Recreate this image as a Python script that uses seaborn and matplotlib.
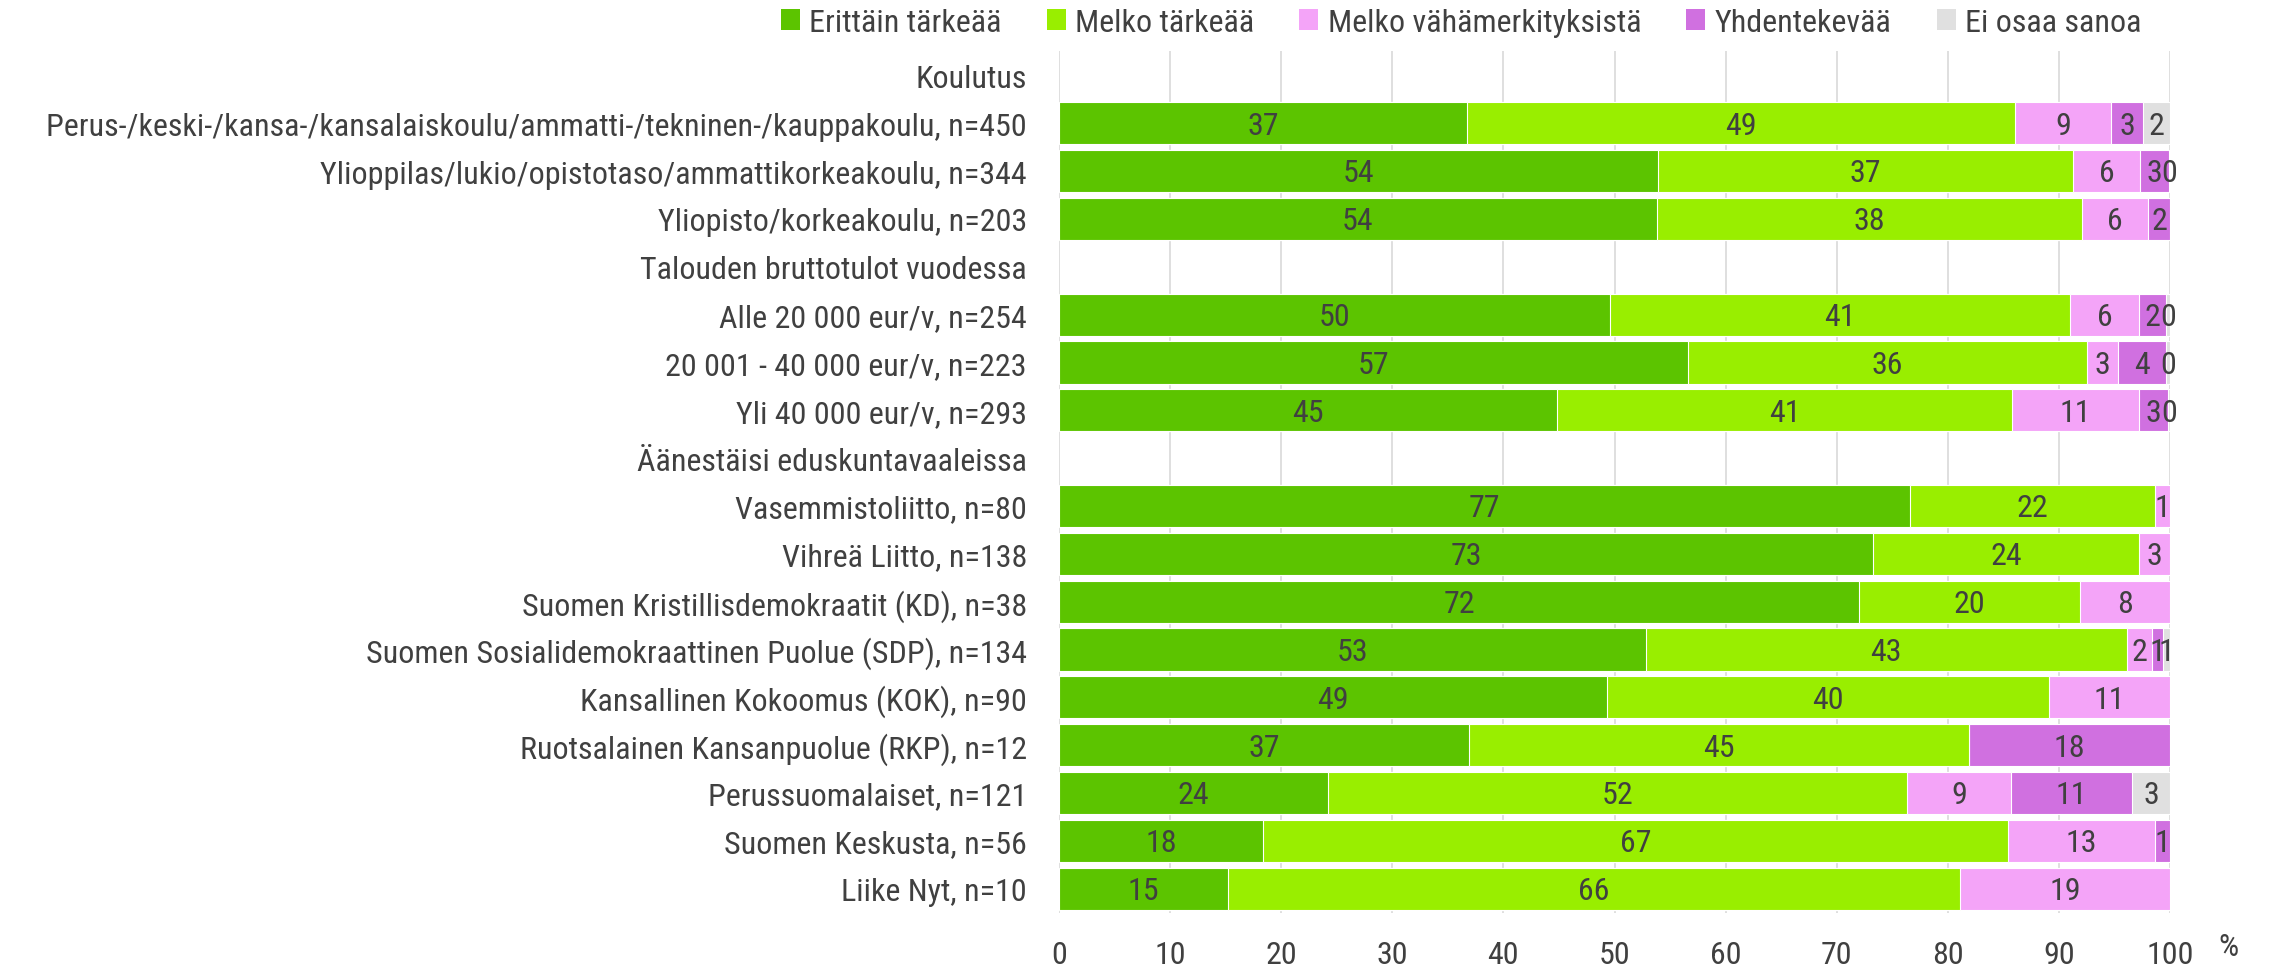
import numpy as np
import pandas as pd
import matplotlib
matplotlib.use("Agg")
import matplotlib.pyplot as plt
from matplotlib import font_manager
from matplotlib.patches import Patch
import seaborn as sns

nan = np.nan
categories = [
    "Koulutus",
    "Perus-/keski-/kansa-/kansalaiskoulu/ammatti-/tekninen-/kauppakoulu, n=450",
    "Ylioppilas/lukio/opistotaso/ammattikorkeakoulu, n=344",
    "Yliopisto/korkeakoulu, n=203",
    "Talouden bruttotulot vuodessa",
    "Alle 20 000 eur/v, n=254",
    "20 001 - 40 000 eur/v, n=223",
    "Yli 40 000 eur/v, n=293",
    "Äänestäisi eduskuntavaaleissa",
    "Vasemmistoliitto, n=80",
    "Vihreä Liitto, n=138",
    "Suomen Kristillisdemokraatit (KD), n=38",
    "Suomen Sosialidemokraattinen Puolue (SDP), n=134",
    "Kansallinen Kokoomus (KOK), n=90",
    "Ruotsalainen Kansanpuolue (RKP), n=12",
    "Perussuomalaiset, n=121",
    "Suomen Keskusta, n=56",
    "Liike Nyt, n=10",
]
series_names = ["Erittäin tärkeää", "Melko tärkeää", "Melko vähämerkityksistä",
                "Yhdentekevää", "Ei osaa sanoa"]
erittain = [nan, 36.7, 53.9, 53.8, nan, 49.6, 56.6, 44.8, nan, 76.6, 73.3, 72.0, 52.8, 49.3, 36.9, 24.2, 18.4, 15.2]
melko = [nan, 49.3, 37.4, 38.3, nan, 41.4, 35.9, 41.0, nan, 22.0, 23.9, 19.9, 43.3, 39.8, 45.0, 52.1, 67.0, 65.9]
vahamerk = [nan, 8.7, 6.0, 5.9, nan, 6.2, 2.8, 11.4, nan, 1.4, 2.8, 8.1, 2.3, 10.9, 0, 9.4, 13.2, 18.9]
yhdentekevaa = [nan, 2.9, 2.6, 2.0, nan, 2.4, 4.3, 2.6, nan, 0, 0, 0, 1.0, 0, 18.1, 10.9, 1.4, 0]
ei_osaa = [nan, 2.4, 0.1, 0, nan, 0.4, 0.4, 0.2, nan, 0, 0, 0, 0.6, 0, 0, 3.4, 0, 0]
colors = ["#5CC400", "#99EE00", "#F4A4F8", "#D070E0", "#E0E0E0"]


def pick_font(names):
    for n in names:
        try:
            font_manager.findfont(n, fallback_to_default=False)
            return n
        except ValueError:
            pass
    return "DejaVu Sans"


sns.set_theme(style="white")
font = pick_font(["Liberation Sans Narrow", "Roboto Condensed", "Liberation Sans"])
plt.rcParams["font.family"] = [font, "DejaVu Sans"]
txt = "#404040"
fs = 23

values = np.array([erittain, melko, vahamerk, yhdentekevaa, ei_osaa])
cum = np.cumsum(values, axis=0)

fig = plt.figure(figsize=(22.69, 9.70), dpi=100)
ax = fig.add_axes([0.4667, 0.0581, 0.4897, 0.8878])

# layered cumulative bars: widest (total) first
for i in range(len(series_names) - 1, -1, -1):
    df = pd.DataFrame({"kategoria": categories, "arvo": cum[i]})
    sns.barplot(data=df, x="arvo", y="kategoria", order=categories, orient="h",
                color=colors[i], saturation=1, width=0.88, errorbar=None,
                edgecolor="white", linewidth=0.8, ax=ax, zorder=2)

for i in range(len(series_names)):
    for r, v in enumerate(values[i]):
        if np.isnan(v) or v <= 0:
            continue
        center = cum[i][r] - v / 2
        ax.text(center, r + 0.04, f"{v:.0f}", ha="center", va="center",
                fontsize=fs, color=txt, zorder=5)

ax.set_xlim(0, 100)
ax.set_ylim(len(categories) - 0.5, -0.5)
ax.set_xticks(np.arange(0, 101, 10))
ax.set_xlabel("")
ax.set_ylabel("")
ax.grid(axis="x", color="#D9D9D9", linewidth=1.2, zorder=0)
ax.grid(axis="y", visible=False)
ax.set_axisbelow(True)
for s in ax.spines.values():
    s.set_visible(False)
ax.tick_params(axis="y", length=0, pad=23, labelsize=fs, labelcolor=txt)
ax.tick_params(axis="x", length=0, pad=20, labelsize=fs, labelcolor=txt)

fig.text(2228 / 2269, 1 - 948 / 970, "%", fontsize=fs, color=txt,
         ha="center", va="center")

handles = [Patch(facecolor=c, edgecolor="none") for c in colors]
fig.legend(handles, series_names, loc="center", bbox_to_anchor=(0.644, 0.976),
           ncol=5, frameon=False, fontsize=fs, labelcolor=txt,
           handlelength=0.6, handleheight=0.6, handletextpad=0.3,
           columnspacing=1.4)

fig.savefig("out.png", dpi=100)
